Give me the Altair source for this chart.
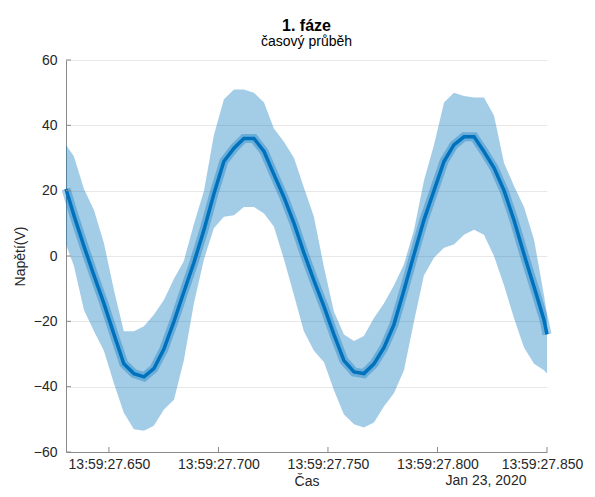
import altair as alt
import pandas as pd

# time offset in ms after 13:59:27.000 (23 Jan 2020, UTC)
t_ms = [630.4, 634.0, 638.6, 643.2, 647.7, 652.3, 656.8, 661.4, 666.0, 670.5, 675.1, 679.7, 684.2,
        688.8, 693.4, 697.9, 702.5, 707.1, 711.6, 716.2, 720.8, 725.3, 729.9, 734.5, 739.0,
        743.6, 748.2, 752.7, 757.3, 761.9, 766.4, 771.0, 775.6, 780.1, 784.7, 789.3, 793.8,
        798.4, 803.0, 807.5, 812.1, 816.7, 821.2, 825.8, 830.4, 834.9, 839.5, 844.1, 848.6, 850.0]

# upper envelope of the fast oscillation (V)
upper = [34, 30.5, 20.5, 14, 4, -10.5, -23, -23, -21.5, -18, -13.5, -7, -1.5,
         9.8, 20, 37, 48, 51, 51, 50, 47, 39, 35, 30, 21,
         12, -3.5, -17, -24, -26, -24.5, -19, -14.5, -9, -2.5, 8, 23,
         34, 47, 50, 49, 48.5, 48.5, 43, 28.5, 21.5, 15, 5, -12, -17.8]

# lower envelope (V)
lower = [3.5, -3, -16.5, -23, -29, -39, -48, -53, -53.5, -52, -47, -44, -32,
         -14.5, -1, 8.5, 12, 12.5, 15, 15, 13, 9, -1, -12, -23,
         -29, -32.5, -41, -48.5, -51.5, -52.5, -51, -46, -42, -35, -20, -6,
         -0.5, 2.5, 3.5, 6.5, 8, 6.5, 0, -9, -19, -28, -33, -35, -36]

# dense central trace (V)
center = [20.5, 12.5, 3, -6, -14.5, -24, -33, -36, -37, -34.5, -28.5, -20, -11,
          -2, 8, 19, 29, 33, 36, 36, 32, 25, 18, 10, 1,
          -7.5, -15.5, -24, -32, -35.5, -36, -33, -28, -21, -10.5, 0.5, 11,
          20, 29, 34, 36.5, 36.5, 32, 27, 20, 11, 0.5, -9.5, -19.5, -24]

x_tick_ms = [650, 700, 750, 800, 850]
y_ticks = [-60, -40, -20, 0, 20, 40, 60]

base_ms = int(pd.Timestamp("2020-01-23 13:59:27", tz="UTC").value // 10**6)

df = pd.DataFrame({
    "t": [base_ms + v for v in t_ms],
    "hi": upper,
    "lo": lower,
    "mid": center,
})
xt_df = pd.DataFrame({"t": [base_ms + v for v in x_tick_ms]})
yt_df = pd.DataFrame({"v": y_ticks})

FONT = "Liberation Sans"
BLUE = "#0072BD"
AXC = "#8a8a8a"
TXT = "#262626"
W, H = 481, 392
last_tick = base_ms + x_tick_ms[-1]

xscale = alt.Scale(domain=[base_ms + 630.4, base_ms + 850], nice=False, zero=False)
yscale = alt.Scale(domain=[-60, 60], nice=False)

xaxis = alt.Axis(values=[base_ms + v for v in x_tick_ms],
                 labelExpr="utcFormat(datum.value, '%H:%M:%S.%L')",
                 labelOffset={"condition": {"test": f"datum.value >= {last_tick}", "value": -5},
                              "value": 0},
                 title="Čas", grid=False, ticks=False, tickSize=0,
                 domainColor=AXC, labelFont=FONT, labelFontSize=14, labelColor=TXT,
                 labelPadding=5, labelOverlap=False, labelFlush=False,
                 titleFont=FONT, titleFontSize=14, titleFontWeight="normal",
                 titleColor=TXT, titleBaseline="alphabetic", titleY=33)
yaxis = alt.Axis(values=y_ticks, title="Napětí(V)", grid=True, gridColor="#e8e8e8",
                 ticks=False, tickSize=0, domainColor=AXC, labelFont=FONT,
                 labelFontSize=14, labelColor=TXT, labelPadding=9,
                 titleFont=FONT, titleFontSize=14, titleFontWeight="normal",
                 titleColor=TXT, titlePadding=6)

X = alt.X("t:Q", scale=xscale, axis=xaxis)

band = alt.Chart(df).mark_area(color=BLUE, opacity=0.36).encode(
    x=X,
    y=alt.Y("lo:Q", scale=yscale, axis=yaxis),
    y2="hi:Q",
)
halo = alt.Chart(df).mark_line(color=BLUE, strokeWidth=9, opacity=0.35).encode(
    x=X,
    y=alt.Y("mid:Q", scale=yscale, axis=yaxis),
)
core = alt.Chart(df).mark_line(color=BLUE, strokeWidth=3.5).encode(
    x=X,
    y=alt.Y("mid:Q", scale=yscale, axis=yaxis),
)
xticks = alt.Chart(xt_df).mark_rule(color=AXC, strokeWidth=1).encode(
    x=X,
    y=alt.value(H), y2=alt.value(H - 5),
)
yticks = alt.Chart(yt_df).mark_rule(color=AXC, strokeWidth=1).encode(
    y=alt.Y("v:Q", scale=yscale, axis=yaxis),
    x=alt.value(0), x2=alt.value(5),
)
date_lbl = alt.Chart(pd.DataFrame({"label": ["Jan 23, 2020"]})).mark_text(
    font=FONT, fontSize=14, color=TXT, align="center", baseline="alphabetic"
).encode(text="label:N", x=alt.value(420), y=alt.value(H + 33))

chart = alt.layer(band, halo, core, xticks, yticks, date_lbl).properties(
    width=W, height=H,
    background="white",
    title=alt.TitleParams("1. fáze", subtitle="časový průběh", font=FONT, fontSize=16,
                          fontWeight="bold", color="#000000", subtitleFont=FONT,
                          subtitleFontSize=14, subtitleColor="#000000", anchor="middle",
                          frame="group", offset=4, subtitlePadding=1),
    padding={"left": 58, "top": 52, "right": 40, "bottom": 37},
    autosize=alt.AutoSizeParams(type="none"),
).configure_view(stroke=None)

chart.save("out.html", embed_options={"renderer": "svg", "actions": False})
